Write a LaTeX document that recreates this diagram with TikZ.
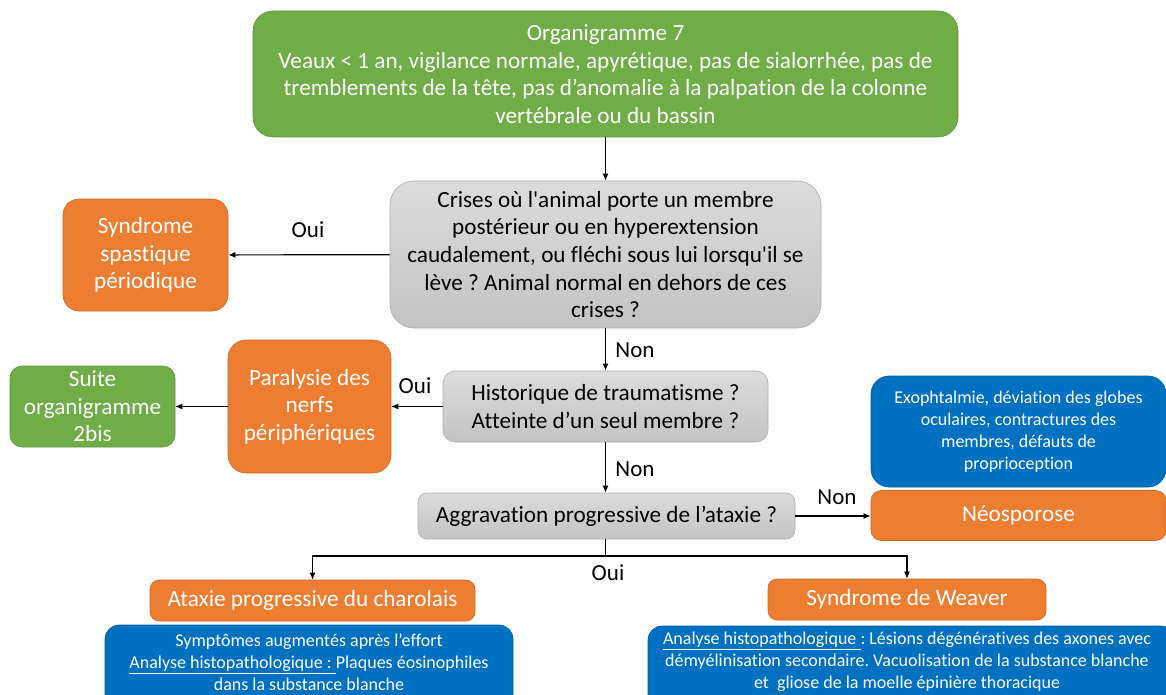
\documentclass[tikz,border=0pt]{standalone}
\usepackage{fontspec}
\setmainfont{Carlito}[Ligatures={TeXOff,CommonOff}]
\frenchspacing
\usetikzlibrary{arrows.meta}
\definecolor{boxgreen}{HTML}{70AD47}
\definecolor{boxorange}{HTML}{ED7D31}
\definecolor{boxblue}{HTML}{0070C0}
\definecolor{graytop}{HTML}{DCDCDC}
\definecolor{graybot}{HTML}{C3C3C3}
\begin{document}
\begin{tikzpicture}[x=1pt,y=-1pt,
  base/.style={rectangle, inner sep=0pt, align=center,
    font=\fontsize{23.2}{27.6}\selectfont},
  greenbox/.style={base, fill=boxgreen, draw=boxgreen!85!black, line width=0.6pt, text=white},
  orangebox/.style={base, fill=boxorange, draw=boxorange!85!black, line width=0.6pt, text=white},
  graybox/.style={base, top color=graytop, bottom color=graybot, draw=graybot!90!black, line width=0.6pt, text=black},
  bluebox/.style={base, fill=boxblue, draw=boxblue!85!black, line width=0.6pt, text=white},
  bluetext/.style={align=center, inner sep=0pt, text=white, font=\fontsize{18}{21.8}\selectfont},
  bigorange/.style={orangebox, font=\fontsize{23.2}{27}\selectfont},
  arr/.style={draw=black, line width=1.2pt, -{Latex[length=7pt,width=6pt]}},
  lbl/.style={inner sep=0pt, font=\fontsize{23}{26}\selectfont}
]
\clip (0,0) rectangle (1166,695);
\fill[white] (0,0) rectangle (1166,695);

% start
\node[greenbox, rounded corners=20pt, minimum width=705pt, minimum height=126pt] (top) at (605.5,74)
  {Organigramme 7\\Veaux < 1 an, vigilance normale, apyrétique, pas de sialorrhée, pas de\\tremblements de la tête, pas d’anomalie à la palpation de la colonne\\vertébrale ou du bassin};

% question 1
\node[graybox, rounded corners=24pt, minimum width=431pt, minimum height=147pt] (q1) at (605.5,254.5)
  {Crises où l'animal porte un membre\\postérieur ou en hyperextension\\caudalement, ou fléchi sous lui lorsqu'il se\\lève ? Animal normal en dehors de ces\\crises ?};
\node[orangebox, rounded corners=16pt, minimum width=165pt, minimum height=112pt] (spast) at (145.5,255)
  {Syndrome\\spastique\\périodique};

% question 2
\node[graybox, rounded corners=12pt, minimum width=325pt, minimum height=71pt] (q2) at (605.5,406.5)
  {Historique de traumatisme ?\\Atteinte d’un seul membre ?};
\node[orangebox, rounded corners=18pt, minimum width=163pt, minimum height=133pt] (paral) at (309.5,406.5)
  {Paralysie des\\nerfs\\périphériques};
\node[greenbox, rounded corners=12pt, minimum width=165pt, minimum height=81pt] (suite) at (92.5,406.5)
  {Suite\\organigramme\\2bis};

% question 3
\node[graybox, rounded corners=9pt, minimum width=377pt, minimum height=46pt] (q3) at (606.5,516)
  {Aggravation progressive de l’ataxie ?};
\node[bigorange, rounded corners=10pt, minimum width=295pt, minimum height=50pt] (neo) at (1018.5,515.5)
  {Néosporose};
\node[bluebox, rounded corners=18pt, minimum width=295pt, minimum height=111pt, font=\fontsize{18}{21.8}\selectfont] (exo) at (1018.5,431.5)
  {Exophtalmie, déviation des globes\\oculaires, contractures des\\membres, défauts de\\proprioception};

% outcomes
\node[bigorange, rounded corners=9pt, minimum width=325pt, minimum height=41pt] (atx) at (312.5,600.5)
  {Ataxie progressive du charolais};
\node[bluebox, rounded corners=14pt, minimum width=408pt, minimum height=90pt] (atxd) at (309,670) {};
\node[bluetext] (atxdt) at (309,662)
  {Symptômes augmentés après l’effort\\\underline{Analyse histopathologique :\ }Plaques éosinophiles\\dans la substance blanche};

\node[bigorange, rounded corners=9pt, minimum width=278pt, minimum height=41pt] (weav) at (907,599.5)
  {Syndrome de Weaver};
\node[bluebox, rounded corners=14pt, minimum width=527pt, minimum height=90pt] (weavd) at (911.5,671) {};
\node[bluetext] (weavdt) at (907,662)
  {\underline{Analyse histopathologique\ }: Lésions dégénératives des axones avec\\démyélinisation secondaire. Vacuolisation de la substance blanche\\et\ \ gliose de la moelle épinière thoracique};

% connectors
\draw[arr] (top) -- (q1);
\draw[arr] (q1) -- (spast);
\node[lbl] (oui1) at (308,230) {Oui};
\draw[arr] (q1) -- (q2);
\node[lbl] (non1) at (635,350) {Non};
\draw[arr] (q2) -- (paral);
\node[lbl] (oui2) at (415,386) {Oui};
\draw[arr] (paral) -- (suite);
\draw[arr] (q2.south) -- (q2.south |- q3.north);
\node[lbl] (non2) at (635,469) {Non};
\draw[arr] (q3.east) -- (q3.east -| neo.west);
\node[lbl] (non3) at (837,497) {Non};
\coordinate (split) at (605.5,556);
\draw[line width=1.2pt] (q3.south -| split) -- (split);
\draw[arr] (split) -| (atx.north);
\draw[arr] (split) -| (weav.north);
\node[lbl] (oui3) at (608,573) {Oui};
\end{tikzpicture}
\end{document}
